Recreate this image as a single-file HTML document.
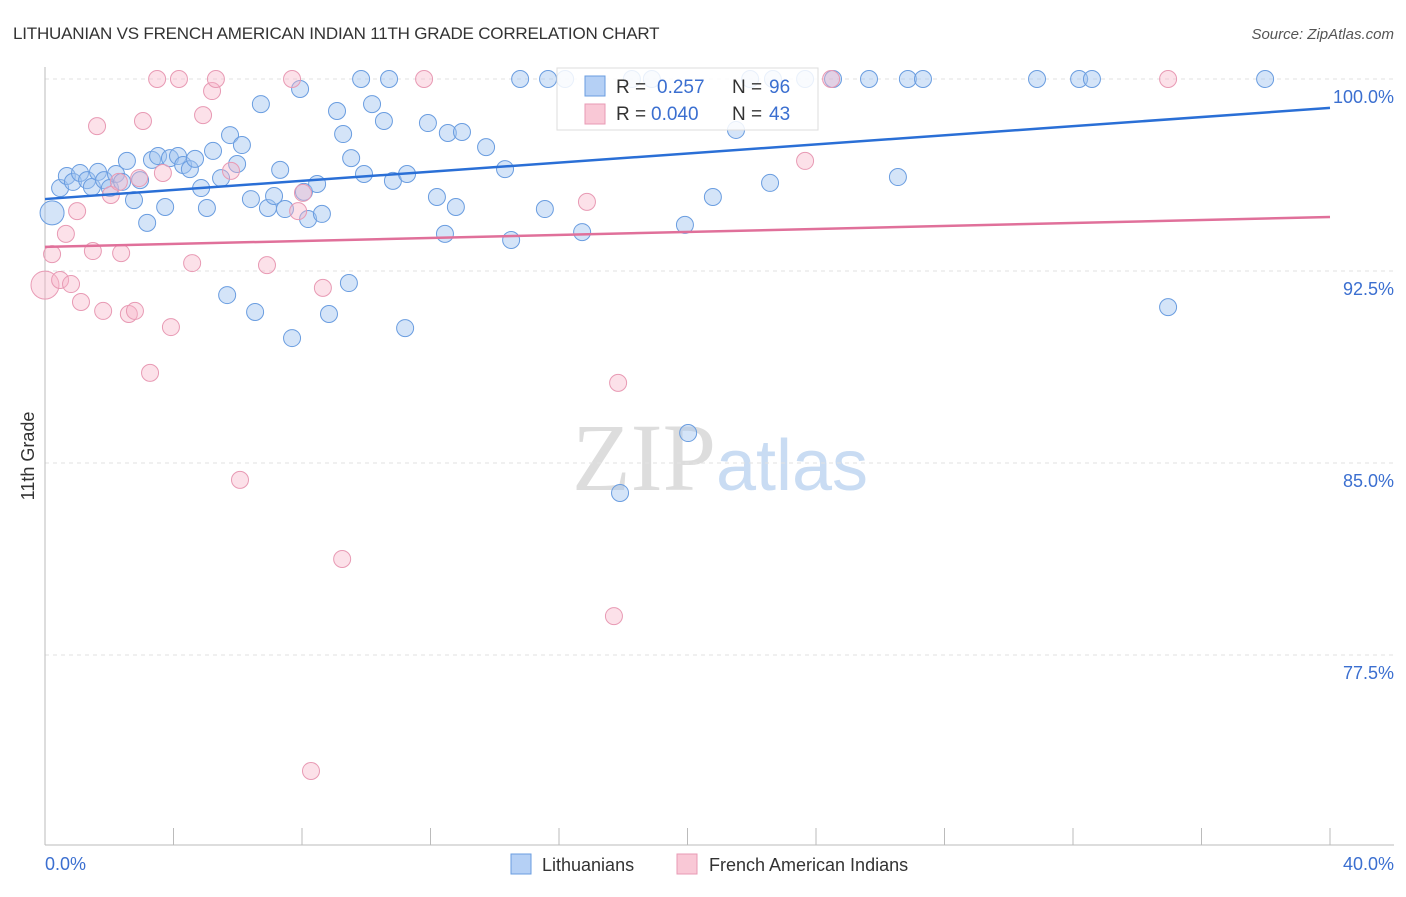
<!DOCTYPE html>
<html><head><meta charset="utf-8"><style>
body{margin:0;background:#fff;font-family:"Liberation Sans",sans-serif;}
svg text{font-family:"Liberation Sans",sans-serif;}
</style></head><body>
<svg id="chart" width="1406" height="892" xmlns="http://www.w3.org/2000/svg">
<text x="13" y="39" font-size="17" fill="#333" letter-spacing="-0.2">LITHUANIAN VS FRENCH AMERICAN INDIAN 11TH GRADE CORRELATION CHART</text>
<text x="1394" y="39" font-size="15" fill="#555" text-anchor="end" font-style="italic">Source: ZipAtlas.com</text>
<text x="720" y="490" font-size="96" text-anchor="middle"><tspan fill="#ddd" font-family="Liberation Serif">ZIP</tspan><tspan fill="#c9dcf3" font-size="72">atlas</tspan></text>
<g id="grid"></g>
<g id="axes"></g>
<g id="pts"></g>
<g id="lines"></g>
<text transform="translate(34,456) rotate(-90)" font-size="18" fill="#333" text-anchor="middle">11th Grade</text>
<text x="45" y="870" font-size="18" fill="#3b6fd0">0.0%</text>
<text x="1394" y="870" font-size="18" fill="#3b6fd0" text-anchor="end">40.0%</text>
<g>
<rect x="557" y="68" width="261" height="62" fill="rgba(255,255,255,0.85)" stroke="#ddd"/>
<rect x="585" y="76" width="20" height="20" fill="#b5d0f5" stroke="#6a9de0"/>
<rect x="585" y="104" width="20" height="20" fill="#f9c8d6" stroke="#e89ab4"/>
<text x="616" y="93" font-size="19" fill="#333">R =</text>
<text x="657" y="93" font-size="19" fill="#3b6fd0">0.257</text>
<text x="732" y="93" font-size="19" fill="#333">N =</text>
<text x="769" y="93" font-size="19" fill="#3b6fd0">96</text>
<text x="616" y="120" font-size="19" fill="#333">R =</text>
<text x="651" y="120" font-size="19" fill="#3b6fd0">0.040</text>
<text x="732" y="120" font-size="19" fill="#333">N =</text>
<text x="769" y="120" font-size="19" fill="#3b6fd0">43</text>
</g>
<g>
<rect x="511" y="854" width="20" height="20" fill="#b5d0f5" stroke="#6a9de0"/>
<text x="542" y="871" font-size="18" fill="#333">Lithuanians</text>
<rect x="677" y="854" width="20" height="20" fill="#f9c8d6" stroke="#e89ab4"/>
<text x="709" y="871" font-size="18" fill="#333">French American Indians</text>
</g>
</svg>
<script>
const yTicks=[100,92.5,85,77.5];
const yTickLabels=["100.0%","92.5%","85.0%","77.5%"];
const blueX=[0.22,0.47,0.68,0.87,1.09,1.31,1.46,1.65,1.84,2.02,2.21,2.40,2.55,2.77,2.96,3.18,3.33,3.52,3.74,3.89,4.14,4.30,4.51,4.67,4.86,5.04,5.23,5.48,5.67,5.76,5.98,6.13,6.41,6.54,6.72,6.94,7.13,7.32,7.47,7.69,7.94,8.06,8.19,8.47,8.62,8.84,9.09,9.28,9.46,9.53,9.84,9.93,10.18,10.55,10.71,10.83,11.21,11.27,11.92,12.20,12.45,12.54,12.79,12.98,13.73,14.32,14.51,14.79,15.56,15.66,16.19,16.72,17.90,18.27,18.89,19.92,20.02,20.79,21.51,21.95,22.57,22.66,23.66,24.53,25.65,26.55,26.86,27.33,30.88,32.19,32.59,34.96,37.98];
const blueY=[94.77,95.74,96.21,95.98,96.33,96.05,95.78,96.37,96.05,95.74,96.29,95.98,96.80,95.27,96.05,94.38,96.84,96.99,95.00,96.91,96.99,96.64,96.48,96.88,95.74,94.96,97.19,96.13,91.56,97.81,96.68,97.42,95.31,90.90,99.02,94.96,95.43,96.45,94.92,89.88,99.61,95.59,94.53,95.90,94.73,90.82,98.75,97.85,92.03,96.91,100,96.29,99.02,98.36,100,96.02,90.27,96.29,98.28,95.39,93.95,97.89,95.00,97.93,97.34,96.48,93.71,100,94.92,100,100,94.02,83.83,100,100,94.30,86.17,95.39,98.01,100,95.94,100,100,100,100,96.17,100,100,100,100,100,91.09,100];
const pinkX=[0.0,0.22,0.47,0.65,0.81,1.00,1.12,1.49,1.62,1.81,2.05,2.30,2.37,2.61,2.80,2.93,3.05,3.27,3.49,3.67,3.92,4.17,4.58,4.92,5.20,5.32,5.79,6.07,6.91,7.69,7.88,8.03,8.28,8.65,9.25,11.80,16.87,17.71,17.84,23.66,24.47,34.96];
const pinkY=[91.95,93.16,92.15,93.95,91.99,94.84,91.29,93.28,98.16,90.94,95.47,95.98,93.20,90.82,90.94,96.13,98.36,88.52,100,96.33,90.31,100,92.81,98.59,99.53,100,96.41,84.34,92.73,100,94.84,95.55,72.97,91.84,81.25,100,95.20,79.02,88.13,96.80,100,100];
const blueLine=[95.31,98.87];
const pinkLine=[93.44,94.61];
const NS="http://www.w3.org/2000/svg";
const sx=v=>45+v*32.125;
const sy=v=>79+(100-v)*25.6;
function mk(tag,attrs,parent){const e=document.createElementNS(NS,tag);for(const k in attrs)e.setAttribute(k,attrs[k]);document.getElementById(parent).appendChild(e);return e;}
yTicks.forEach((t,i)=>{
 const l=mk('line',{x1:45,x2:1394,y1:sy(t),y2:sy(t),stroke:'#e2e2e2','stroke-dasharray':'4,4'},'grid');
 
 
 const tx=mk('text',{x:1394,y:sy(t)+24,'font-size':18,fill:'#3b6fd0','text-anchor':'end'},'grid');
 tx.textContent=yTickLabels[i];
 
 
});
const ax=mk('line',{x1:45,x2:1394,y1:845,y2:845,stroke:'#bbb'},'axes');


const ay=mk('line',{x1:45,x2:45,y1:67,y2:845,stroke:'#bbb'},'axes');


for(let i=0;i<=10;i++){
 const t=mk('line',{x1:sx(i*4),x2:sx(i*4),y1:828,y2:845,stroke:'#bbb'},'axes');
 
 
}
blueX.forEach((x,i)=>{
 const c=mk('circle',{cx:sx(x),cy:sy(blueY[i]),r:i===0?12:8.5,fill:'rgba(160,196,240,0.45)',stroke:'#6a9de0','stroke-width':1},'pts');
 
 
});
pinkX.forEach((x,i)=>{
 const c=mk('circle',{cx:sx(x),cy:sy(pinkY[i]),r:i===0?14:8.5,fill:'rgba(248,180,200,0.4)',stroke:'#e89ab4','stroke-width':1},'pts');
 
 
});
const bl=mk('line',{x1:sx(0),x2:sx(40),y1:sy(blueLine[0]),y2:sy(blueLine[1]),stroke:'#2a6fd6','stroke-width':2.5},'lines');


const pl=mk('line',{x1:sx(0),x2:sx(40),y1:sy(pinkLine[0]),y2:sy(pinkLine[1]),stroke:'#e0709a','stroke-width':2.5},'lines');


</script>
</body></html>
